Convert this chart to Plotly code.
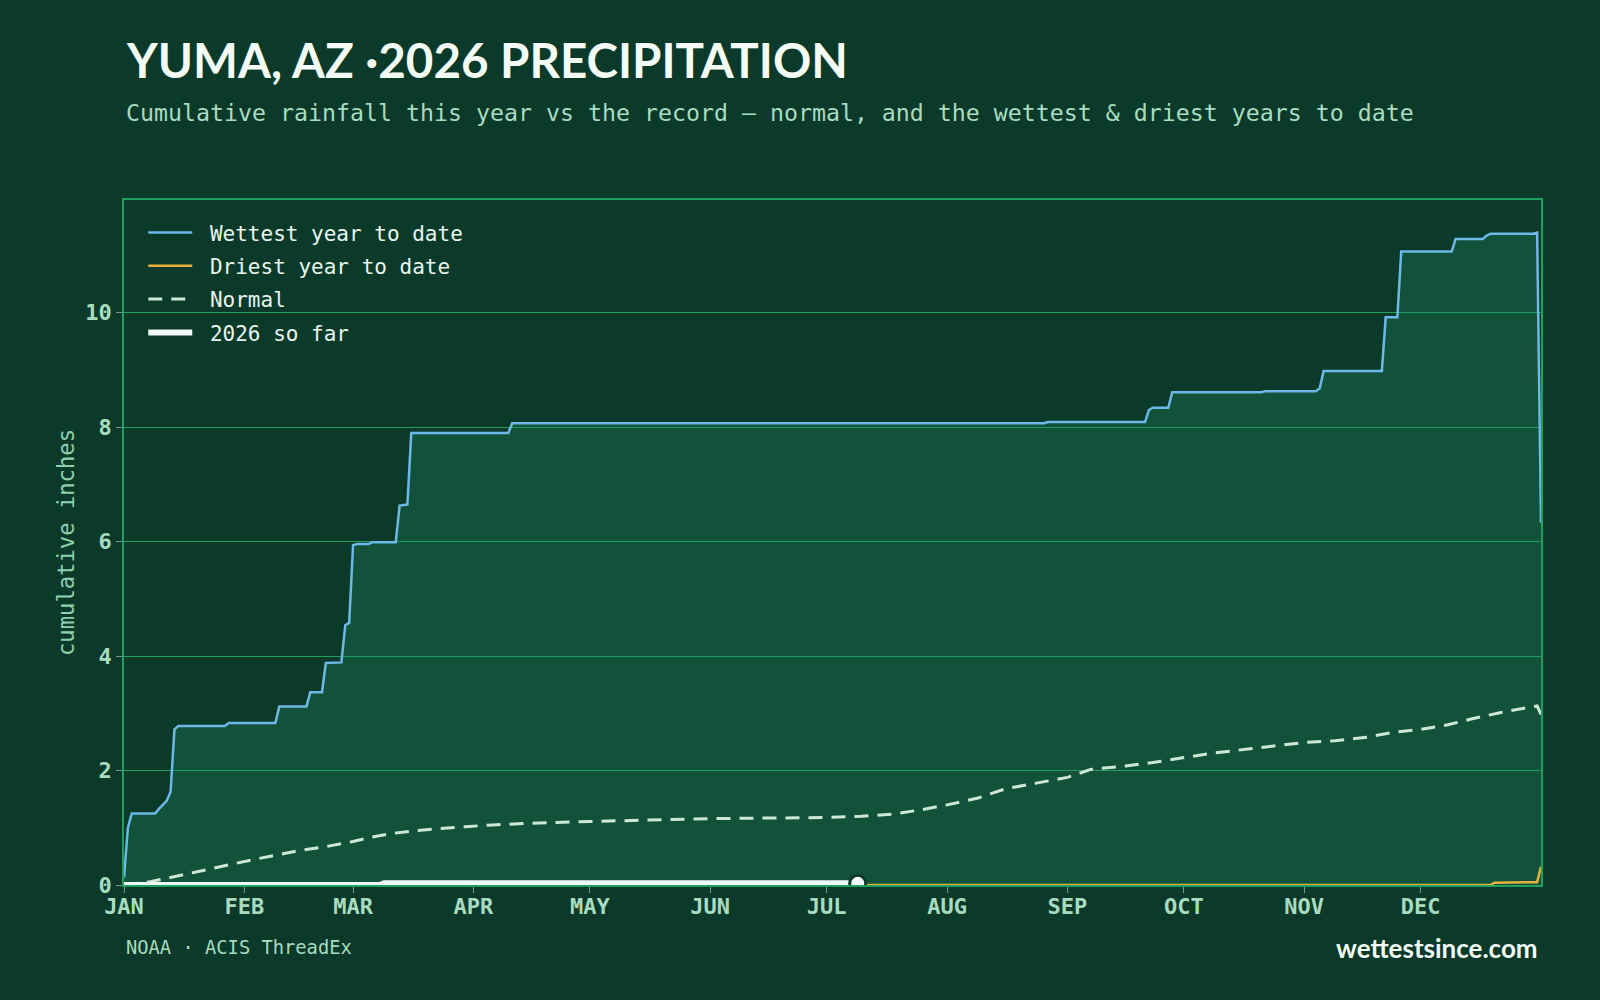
import plotly.graph_objects as go

# ---------------- data ----------------
month_ticks = [0, 31, 59, 90, 120, 151, 181, 212, 243, 273, 304, 334]
month_labels = ["JAN", "FEB", "MAR", "APR", "MAY", "JUN", "JUL", "AUG", "SEP", "OCT", "NOV", "DEC"]
y_ticks = [0, 2, 4, 6, 8, 10]

wet_days = [0, 1, 2, 8, 9, 10, 11, 12, 13, 14, 26, 27, 39, 40, 47, 48, 51, 52, 56, 57, 58,
            59, 60, 63, 64, 70, 71, 73, 74, 99, 100, 237, 238, 263, 264, 265, 269, 270,
            293, 294, 307, 308, 309, 324, 325, 328, 329, 342, 343, 350, 351, 352, 363, 364, 365]
wet_vals = [0.13, 1.0, 1.25, 1.25, 1.33, 1.4, 1.47, 1.63, 2.72, 2.78, 2.78, 2.83, 2.83, 3.12,
            3.12, 3.37, 3.37, 3.88, 3.89, 4.54, 4.58, 5.94, 5.96, 5.96, 5.99, 5.99, 6.63, 6.65,
            7.9, 7.9, 8.07, 8.07, 8.09, 8.09, 8.3, 8.34, 8.34, 8.61, 8.61, 8.63, 8.63, 8.68,
            8.98, 8.98, 9.92, 9.92, 11.07, 11.07, 11.29, 11.29, 11.35, 11.38, 11.38, 11.4, 6.33]

dry_days = [0, 352, 353, 364, 365]
dry_vals = [0.0, 0.0, 0.04, 0.05, 0.32]

normal_days = [0, 7, 14, 20, 27, 33, 39, 45, 52, 59, 64, 69, 75, 82, 88, 95, 105, 120, 135,
               151, 166, 181, 190, 198, 205, 212, 220, 227, 235, 243, 249, 258, 265, 273, 280,
               290, 297, 304, 312, 320, 327, 334, 341, 347, 355, 364, 365]
normal_vals = [0.0, 0.06, 0.16, 0.25, 0.36, 0.44, 0.52, 0.6, 0.67, 0.76, 0.84, 0.9, 0.95, 0.99,
               1.02, 1.05, 1.08, 1.11, 1.14, 1.16, 1.17, 1.18, 1.2, 1.24, 1.31, 1.4, 1.52, 1.68,
               1.78, 1.88, 2.02, 2.08, 2.14, 2.22, 2.3, 2.38, 2.43, 2.49, 2.52, 2.58, 2.67, 2.72,
               2.8, 2.9, 3.02, 3.13, 2.98]

ytd_days = [0, 66, 67, 189]
ytd_vals = [0.0, 0.0, 0.03, 0.03]

# ---------------- style ----------------
BG = "#0b3a2a"
GRID = "#1f9e5e"
TICKTXT = "#a8dcc0"
MONO = "DejaVu Sans Mono"
NB = "\u00a0"

fig = go.Figure()

# area under the wettest curve (no legend entry)
fig.add_trace(go.Scatter(
    x=wet_days, y=wet_vals, mode="none", fill="tozeroy",
    fillcolor="rgba(40,140,95,0.30)", showlegend=False, hoverinfo="skip"))
fig.add_trace(go.Scatter(
    x=wet_days, y=wet_vals, mode="lines", name=NB + "Wettest year to date",
    legendgroup="a", line=dict(color="#6cb8e8", width=2.5)))
fig.add_trace(go.Scatter(
    x=dry_days, y=dry_vals, mode="lines", name=NB + "Driest year to date",
    legendgroup="b", line=dict(color="#e8b23a", width=2.5)))
fig.add_trace(go.Scatter(
    x=normal_days, y=normal_vals, mode="lines", name=NB + "Normal",
    legendgroup="c", line=dict(color="#cde8d6", width=3, dash="14px,9px")))
fig.add_trace(go.Scatter(
    x=ytd_days, y=ytd_vals, mode="lines", name=NB + "2026 so far",
    legendgroup="d", line=dict(color="#f4fbf6", width=6)))
fig.add_trace(go.Scatter(
    x=[ytd_days[-1]], y=[ytd_vals[-1]], mode="markers", showlegend=False,
    legendgroup="d",
    marker=dict(color="#f4fbf6", size=16, line=dict(color=BG, width=3))))

fig.update_layout(
    width=1600, height=1000,
    paper_bgcolor=BG, plot_bgcolor=BG,
    margin=dict(l=124, r=59, t=200, b=115),
    showlegend=True,
    legend=dict(x=0.0136, y=0.982, xanchor="left", yanchor="top",
                bgcolor="rgba(0,0,0,0)", itemwidth=44, tracegroupgap=3,
                font=dict(family=MONO, size=21, color="#e8f5ee")),
    xaxis=dict(range=[0, 365], tickvals=month_ticks, ticktext=month_labels,
               showgrid=False, zeroline=False, showline=True, mirror=True,
               linecolor=GRID, linewidth=1.5,
               ticks="outside", ticklen=6, tickcolor="#6f9a86", tickwidth=1,
               ticklabelstandoff=-5,
               tickfont=dict(family=MONO, size=22, color=TICKTXT, weight="bold")),
    yaxis=dict(range=[0, 11.97], tickvals=y_ticks,
               showgrid=True, gridcolor=GRID, gridwidth=1, zeroline=False,
               showline=True, mirror=True, linecolor=GRID, linewidth=1.5,
               ticks="outside", ticklen=6, tickcolor="#6f9a86", tickwidth=1,
               tickfont=dict(family=MONO, size=22, color=TICKTXT, weight="bold"),
               title=dict(text="cumulative inches", standoff=5,
                          font=dict(family=MONO, size=22.2, color="#8fcfad"))),
)

def py(p):
    return (885 - p) / 685.0

def px(p):
    return (p - 124) / 1417.0

fig.add_annotation(text="YUMA, AZ ·2026 PRECIPITATION", xref="paper", yref="paper",
                   x=px(124), y=py(59), xanchor="left", yanchor="middle", showarrow=False,
                   font=dict(family="Lato", size=47.5, color="#f2fbf4", weight="bold"))
fig.add_annotation(text="Cumulative rainfall this year vs the record — normal, and the wettest &amp; driest years to date",
                   xref="paper", yref="paper", x=px(124), y=py(113),
                   xanchor="left", yanchor="middle", showarrow=False,
                   font=dict(family=MONO, size=23.25, color="#a8dcc0"))
fig.add_annotation(text="NOAA · ACIS ThreadEx", xref="paper", yref="paper",
                   x=px(124), y=py(948), xanchor="left", yanchor="middle", showarrow=False,
                   font=dict(family=MONO, size=18.75, color="#a8dcc0"))
fig.add_annotation(text="wettestsince.com", xref="paper", yref="paper",
                   x=px(1540), y=py(948), xanchor="right", yanchor="middle", showarrow=False,
                   font=dict(family="Lato", size=26, color="#f2fbf4", weight="bold"))

fig.write_html("out.html")
